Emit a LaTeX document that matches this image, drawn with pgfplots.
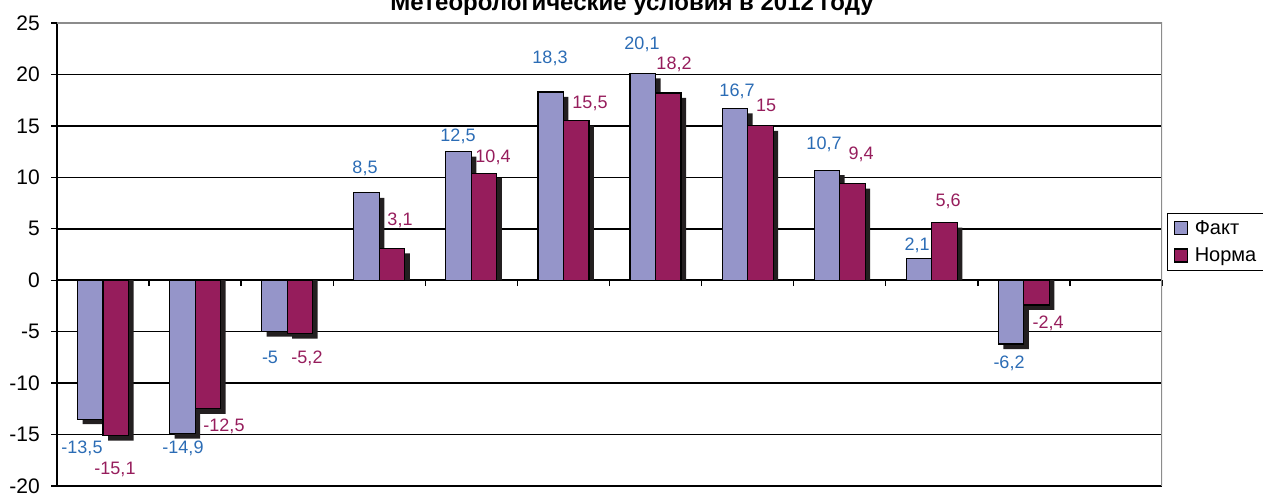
\documentclass[border=0pt]{standalone}
\usepackage{fontspec}
\setmainfont{Liberation Sans}
\usepackage{pgfplots}
\pgfplotsset{compat=1.18}
\definecolor{fakt}{HTML}{9595C9}
\definecolor{norma}{HTML}{961D5C}
\definecolor{faktlab}{HTML}{2B6CB5}
\definecolor{shadowc}{HTML}{231F20}
\begin{document}
\begin{tikzpicture}
\begin{axis}[
  at={(57pt,8pt)}, anchor=south west,
  scale only axis, width=1105pt, height=463pt,
  xmin=-0.5, xmax=11.5, ymin=-20, ymax=25,
  ybar, bar width=25.5pt,
  axis x line=middle, axis y line=left,
  axis line style={-, black, line width=1.6pt},
  xtick={-0.5,0.5,...,11.5}, xticklabels={},
  xtick align=center,
  every x tick/.append style={black, line width=1.4pt, yshift=-3pt},
  ytick={-20,-15,...,25},
  yticklabels={-20,-15,-10,-5,0,5,10,15,20,25},
  ytick align=outside, major tick length=6pt,
  every y tick/.append style={black, line width=1.4pt},
  yticklabel style={font=\fontsize{21}{21}\selectfont, inner sep=0pt, xshift=-11pt},
  ymajorgrids, major grid style={black, line width=1.6pt},
  legend style={at={(1.0045,0.5896)}, anchor=north west, draw=black, line width=1.2pt,
    font=\fontsize{20}{22}\selectfont, inner xsep=6pt, inner ysep=6pt, row sep=10pt,
    nodes={inner sep=1pt},
    /tikz/every odd column/.append style={column sep=6pt}},
  legend cell align=left,
  legend image code/.code={\draw[#1, line width=1.2pt] (0pt,-6.5pt) rectangle (13pt,6.5pt);},
]
% shadows
\addplot[forget plot, fill=shadowc, draw=none, bar shift=-7.75pt] coordinates {
 (0,-13.986) (1,-15.386) (2,-5.486) (3,8.014) (4,12.014) (5,17.814)
 (6,19.614) (7,16.214) (8,10.214) (9,1.614) (10,-6.686)};
\addplot[forget plot, fill=shadowc, draw=none, bar shift=17.75pt] coordinates {
 (0,-15.586) (1,-12.986) (2,-5.686) (3,2.614) (4,9.914) (5,15.014)
 (6,17.714) (7,14.514) (8,8.914) (9,5.114) (10,-2.886)};
% bars
\addplot[fill=fakt, draw=black, line width=1.2pt, bar shift=-12.75pt] coordinates {
 (0,-13.5) (1,-14.9) (2,-5) (3,8.5) (4,12.5) (5,18.3)
 (6,20.1) (7,16.7) (8,10.7) (9,2.1) (10,-6.2)};
\addplot[fill=norma, draw=black, line width=1.2pt, bar shift=12.75pt] coordinates {
 (0,-15.1) (1,-12.5) (2,-5.2) (3,3.1) (4,10.4) (5,15.5)
 (6,18.2) (7,15) (8,9.4) (9,5.6) (10,-2.4)};
\legend{Факт, Норма}
\draw[black!45, line width=1.6pt] (axis cs:-0.5,25) -- (axis cs:11.5,25) -- (axis cs:11.5,-20);
\end{axis}
\tikzset{fl/.style={anchor=base, text=faktlab, font=\fontsize{18}{18}\selectfont, inner sep=0pt},
         nl/.style={anchor=base, text=norma, font=\fontsize{18}{18}\selectfont, inner sep=0pt}}
\node[fl] at (82pt,40.5pt) {-13,5};
\node[fl] at (183pt,40.5pt) {-14,9};
\node[fl] at (270pt,130.5pt) {-5};
\node[fl] at (365pt,320.5pt) {8,5};
\node[fl] at (458pt,352.5pt) {12,5};
\node[fl] at (550pt,430pt) {18,3};
\node[fl] at (642pt,444pt) {20,1};
\node[fl] at (737pt,397.5pt) {16,7};
\node[fl] at (824pt,344.5pt) {10,7};
\node[fl] at (917pt,243.5pt) {2,1};
\node[fl] at (1009pt,125.5pt) {-6,2};
\node[nl] at (115pt,19.5pt) {-15,1};
\node[nl] at (224pt,62.5pt) {-12,5};
\node[nl] at (307pt,130.5pt) {-5,2};
\node[nl] at (400pt,268.5pt) {3,1};
\node[nl] at (493pt,331.5pt) {10,4};
\node[nl] at (590pt,385pt) {15,5};
\node[nl] at (674pt,424.5pt) {18,2};
\node[nl] at (766pt,382.5pt) {15};
\node[nl] at (861pt,334.5pt) {9,4};
\node[nl] at (948pt,287.5pt) {5,6};
\node[nl] at (1048pt,165.5pt) {-2,4};
\node[anchor=base, font=\bfseries\fontsize{24}{24}\selectfont, inner sep=0pt] at (632pt,483pt) {Метеорологические условия в 2012 году};
\pgfresetboundingbox
\useasboundingbox (0pt,0pt) rectangle (1263pt,494pt);
\end{tikzpicture}
\end{document}
